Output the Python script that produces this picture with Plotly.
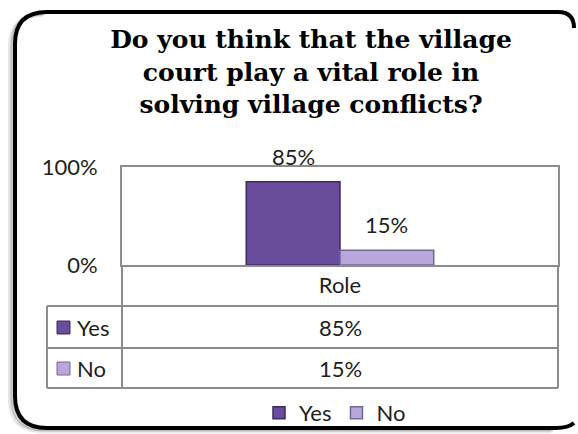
import plotly.graph_objects as go

# ---- data ----
categories = ["Role"]
series_names = ["Yes", "No"]
yes_values = [0.85]
no_values = [0.15]
y_tick_values = [0, 1]
title_lines = [
    "Do you think that the village",
    "court play a vital role in",
    "solving village conflicts?",
]

# ---- styling / geometry ----
W, H = 578, 434
L, R, T, B = 122, 20, 167, 169
PW, PH = W - L - R, H - T - B
BARGAP = 0.57
FONT = "Lato"
TEXT = "#1e1e1e"
GRID = "#8c8c8c"
FILL = ["#6a4c9c", "#b9a6da"]
EDGE = ["#3e2a63", "#76679a"]
series_values = [yes_values, no_values]


def px(x):
    """pixel x -> paper x"""
    return (x - L) / PW


def py(y):
    """pixel y (from top) -> paper y"""
    return (H - B - y) / PH


fig = go.Figure()
for name, vals, fc, ec in zip(series_names, series_values, FILL, EDGE):
    fig.add_trace(go.Bar(
        x=categories, y=vals, name=name,
        marker=dict(color=fc, line=dict(color=ec, width=1.5)),
        hoverinfo="skip",
    ))

shapes = []


def line_px(x0, y0, x1, y1, color, width):
    shapes.append(dict(type="line", xref="paper", yref="paper",
                       x0=px(x0), x1=px(x1), y0=py(y0), y1=py(y1),
                       line=dict(color=color, width=width), layer="below"))


def corner_px(a, c, b, color, width):
    """quadratic corner from point a to point b with control point c"""
    path = (f"M{px(a[0]):.5f},{py(a[1]):.5f} "
            f"Q{px(c[0]):.5f},{py(c[1]):.5f} {px(b[0]):.5f},{py(b[1]):.5f}")
    shapes.append(dict(type="path", xref="paper", yref="paper", path=path,
                       line=dict(color=color, width=width), layer="below"))


# rounded outer frame, kept fully inside the page; its right side is not drawn
FX0, FY0, FY1, FR = 15, 12, 428, 32
FX_RIGHT = 574


def left_and_bottom(dx, dy, color, width):
    x0, y0, y1 = FX0 + dx, FY0 + dy, FY1 + dy
    corner_px((x0, y0 + FR), (x0, y0), (x0 + FR, y0), color, width)
    line_px(x0, y0 + FR, x0, y1 - FR, color, width)
    corner_px((x0, y1 - FR), (x0, y1), (x0 + FR, y1), color, width)
    line_px(x0 + FR, y1, 556 + dx, y1, color, width)


# soft shadow on the left and bottom
for dx, dy, w, a in [(-5, 3, 4, 0.10), (-3, 2, 3, 0.18)]:
    left_and_bottom(dx, dy, f"rgba(0,0,0,{a})", w)

left_and_bottom(0, 0, "black", 4)
line_px(FX0 + FR, FY0, 558, FY0, "black", 4)
corner_px((558, FY0), (FX_RIGHT, FY0), (FX_RIGHT, FY0 + 16), "black", 4)
corner_px((556, FY1), (568, FY1), (FX_RIGHT, FY1 - 5), "black", 4)


# data table grid under the plot
def hline(y, x0, x1):
    shapes.append(dict(type="line", xref="paper", yref="paper",
                       x0=px(x0), x1=px(x1), y0=py(y), y1=py(y),
                       line=dict(color=GRID, width=2)))


def vline(x, y0, y1):
    shapes.append(dict(type="line", xref="paper", yref="paper",
                       x0=px(x), x1=px(x), y0=py(y0), y1=py(y1),
                       line=dict(color=GRID, width=2)))


ROW_TOPS = [306, 348]
ROW_BOTTOM = 388
TABLE_LEFT = 47
for y in ROW_TOPS + [ROW_BOTTOM]:
    hline(y, TABLE_LEFT, L + PW)
vline(L, H - B, ROW_BOTTOM)
vline(L + PW, H - B, ROW_BOTTOM)
vline(TABLE_LEFT, ROW_TOPS[0], ROW_BOTTOM)

annotations = []

# value labels above the bars
n = len(series_names)
group = 1 - BARGAP
for ci, cat in enumerate(categories):
    for si, vals in enumerate(series_values):
        xc = ci - group / 2 + (si + 0.5) * group / n
        annotations.append(dict(x=xc, y=vals[ci], xref="x", yref="y",
                                text=f"{vals[ci]:.0%}", showarrow=False,
                                yanchor="bottom", yshift=10,
                                font=dict(family=FONT, size=22, color=TEXT)))

# table rows: legend key, series name, values
for si, (name, vals) in enumerate(zip(series_names, series_values)):
    top = ROW_TOPS[si]
    bottom = ROW_TOPS[si + 1] if si + 1 < len(ROW_TOPS) else ROW_BOTTOM
    yc = (top + bottom) / 2
    shapes.append(dict(type="rect", xref="paper", yref="paper",
                       x0=px(57), x1=px(70), y0=py(yc - 6), y1=py(yc + 7),
                       fillcolor=FILL[si], line=dict(color=EDGE[si], width=1)))
    annotations.append(dict(x=px(75), y=py(yc), xref="paper", yref="paper",
                            text=name, showarrow=False, xanchor="left",
                            yanchor="middle",
                            font=dict(family=FONT, size=22, color=TEXT)))
    for ci, cat in enumerate(categories):
        annotations.append(dict(x=ci, y=py(yc), xref="x", yref="paper",
                                text=f"{vals[ci]:.0%}", showarrow=False,
                                xanchor="center", yanchor="middle",
                                font=dict(family=FONT, size=22, color=TEXT)))

fig.update_layout(
    width=W, height=H,
    margin=dict(l=L, r=R, t=T, b=B, autoexpand=False),
    paper_bgcolor="white", plot_bgcolor="white",
    barmode="group", bargap=BARGAP, bargroupgap=0,
    title=dict(text="<br>".join(title_lines), xref="container", yref="container",
               x=311 / W, xanchor="center", y=1 - 48 / H, yanchor="top",
               font=dict(family="DejaVu Serif", size=25, color="black",
                         weight="bold")),
    font=dict(family=FONT, size=22, color=TEXT),
    xaxis=dict(type="category", showline=True, mirror=True, linecolor=GRID,
               linewidth=2, showgrid=False, ticks="", ticklabelstandoff=0,
               tickfont=dict(family=FONT, size=22, color=TEXT), fixedrange=True),
    yaxis=dict(range=[0, 1], tickvals=y_tick_values, tickformat=".0%",
               showline=True, mirror=True, linecolor=GRID, linewidth=2,
               showgrid=False, zeroline=False, ticks="", ticklabelstandoff=18,
               tickfont=dict(family=FONT, size=22, color=TEXT), fixedrange=True),
    showlegend=True,
    legend=dict(orientation="h", xref="container", yref="container",
                x=335 / W, xanchor="center", y=1 - 413 / H, yanchor="middle",
                font=dict(family=FONT, size=22, color=TEXT),
                itemwidth=30, bgcolor="rgba(0,0,0,0)"),
    shapes=shapes, annotations=annotations,
)

fig.write_html("out.html", config={"displayModeBar": False})
